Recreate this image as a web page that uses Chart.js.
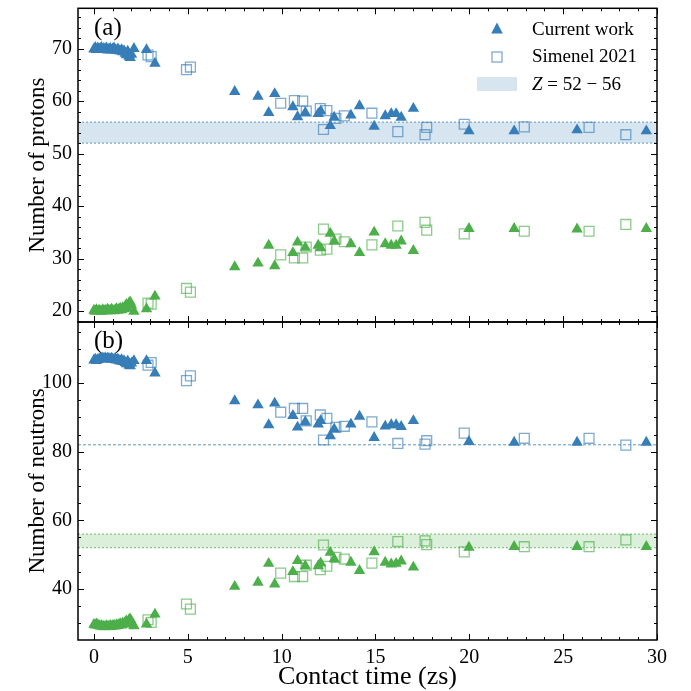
<!DOCTYPE html>
<html>
<head>
<meta charset="utf-8">
<script src="https://cdn.jsdelivr.net/npm/chart.js@4/dist/chart.umd.min.js"></script>
<style>
html, body { margin: 0; padding: 0; background: #fff; }
#wrap { position: relative; width: 691px; height: 691px; }
#wrap canvas { position: absolute; left: 0; top: 0; }
</style>
</head>
<body>
<div id="wrap">
  <canvas id="top" width="691" height="691"></canvas>
  <canvas id="bot" width="691" height="691"></canvas>
</div>
<script>
// axis limits and tick labels
const xLimits = [-0.85, 30];
const zLimits = [17.9, 77.7];
const nLimits = [25.1, 117.8];
const xTicks = [0, 5, 10, 15, 20, 25, 30];
const zTicks = [20, 30, 40, 50, 60, 70];
const nTicks = [40, 60, 80, 100];

// reference bands / lines
const zBand = [52, 56];
const nBand = [52, 56];
const nLine = 82;

// current work (triangles): contact time and fragment Z / N
const tCur = [0.00, 0.07, 0.13, 0.20, 0.27, 0.33, 0.40, 0.47, 0.53, 0.60, 0.67, 0.73, 0.80, 0.87, 0.93,
    1.00, 1.07, 1.13, 1.20, 1.27, 1.33, 1.40, 1.47, 1.53, 1.60, 1.67, 1.73, 1.80, 1.87, 1.93, 2.00,
    2.13, 2.80, 3.25, 7.50, 8.74, 9.31, 9.63, 10.60, 10.85, 11.26, 11.95, 12.08, 12.59, 12.80,
    13.69, 14.15, 14.93, 15.52, 15.84, 16.10, 16.37, 17.02, 19.98, 22.39, 25.74, 29.43];
const zHeavyCur = [69.9, 70.2, 69.8, 70.1, 69.9, 70.0, 70.2, 69.8, 70.0, 69.9, 70.1, 69.7, 69.9, 70.0, 69.7,
    69.9, 70.1, 69.8, 69.6, 69.9, 69.7, 69.5, 69.8, 69.4, 69.6, 69.1, 68.8, 69.5, 68.5, 68.3, 68.9,
    70.0, 69.8, 67.2, 61.8, 60.9, 57.8, 61.4, 58.9, 57.0, 57.8, 57.6, 58.1, 55.3, 56.9,
    57.3, 59.1, 55.2, 57.2, 57.6, 57.6, 56.9, 58.6, 54.3, 54.3, 54.5, 54.3];
const zLightCur = [20.1, 19.9, 20.2, 20.0, 20.1, 20.0, 19.9, 20.2, 20.0, 20.1, 20.0, 20.3, 20.1, 20.0, 20.3,
    20.1, 20.0, 20.2, 20.4, 20.1, 20.3, 20.5, 20.2, 20.6, 20.4, 20.9, 21.2, 20.5, 21.5, 21.7, 21.1,
    19.9, 20.4, 22.8, 28.4, 29.1, 32.5, 28.6, 31.1, 33.1, 32.1, 32.5, 32.0, 34.8, 33.3,
    32.8, 31.1, 35.0, 32.8, 32.5, 32.5, 33.3, 31.5, 35.7, 35.7, 35.6, 35.7];
const nHeavyCur = [106.7, 106.9, 106.5, 106.8, 106.9, 107.1, 107.0, 107.2, 107.1, 107.3, 107.0, 107.2, 107.1, 106.9, 107.2,
    107.0, 106.8, 107.1, 106.7, 106.9, 106.6, 106.4, 106.8, 106.2, 106.5, 105.9, 105.6, 106.4, 105.2, 105.0, 105.8,
    106.5, 106.5, 102.9, 94.8, 93.6, 87.8, 94.1, 90.5, 87.1, 88.7, 88.0, 89.0, 84.6, 86.6,
    88.0, 90.3, 84.1, 87.4, 87.8, 87.8, 87.3, 89.0, 82.9, 82.7, 82.7, 82.7];
const nLightCur = [29.6, 29.4, 29.7, 29.5, 29.3, 29.1, 29.2, 29.0, 29.1, 28.9, 29.2, 29.0, 29.1, 29.3, 29.0,
    29.2, 29.4, 29.1, 29.5, 29.3, 29.6, 29.8, 29.4, 30.0, 29.7, 30.3, 30.6, 29.8, 31.0, 31.2, 30.4,
    29.2, 29.7, 32.6, 40.7, 41.9, 47.4, 41.4, 45.0, 48.2, 46.7, 46.7, 47.5, 50.6, 48.7,
    47.7, 45.3, 50.8, 47.7, 47.2, 47.4, 48.1, 46.3, 52.1, 52.3, 52.3, 52.3];

// Simenel 2021 (open squares)
const tSim = [2.88, 3.05, 4.93, 5.14, 9.95, 10.68, 11.12, 11.31, 12.06, 12.23, 12.41, 12.89, 13.34,
    14.81, 16.19, 17.64, 17.73, 19.73, 22.93, 26.38, 28.34];
const zHeavySim = [68.8, 68.5, 66.0, 66.5, 59.6, 60.1, 60.0, 58.1, 58.6, 54.6, 58.2, 56.7, 57.2,
    57.7, 54.2, 53.6, 55.0, 55.6, 55.1, 55.0, 53.6];
const zLightSim = [21.5, 21.3, 24.3, 23.6, 30.7, 30.1, 30.1, 32.2, 31.6, 35.6, 31.8, 33.7, 33.2,
    32.6, 36.2, 36.9, 35.4, 34.7, 35.2, 35.2, 36.5];
const nHeavySim = [105.2, 106.0, 100.7, 102.1, 91.5, 92.6, 92.6, 89.0, 90.7, 83.4, 89.7, 87.1, 87.4,
    88.7, 82.4, 82.2, 83.2, 85.4, 83.9, 83.9, 81.9];
const nLightSim = [31.0, 30.2, 35.6, 34.1, 44.6, 43.6, 43.6, 46.9, 45.6, 52.8, 46.6, 49.2, 48.7,
    47.5, 53.8, 54.0, 52.9, 50.8, 52.3, 52.3, 54.3];

const BLUE = '#377eb8', GREEN = '#4daf4a';
const BLUE_A = 'rgba(55,126,184,0.65)', GREEN_A = 'rgba(77,175,74,0.65)';
const SERIF = '"Liberation Serif", "Times New Roman", serif';

Chart.defaults.font.family = SERIF;
Chart.defaults.color = '#000';

const pts = (t, v) => t.map((x, i) => ({ x: x, y: v[i] }));
const hline = (y) => [{ x: xLimits[0], y: y }, { x: xLimits[1], y: y }];
const fixedTicks = (arr) => (s) => { s.ticks = arr.map(v => ({ value: v })); };

function tri(data, color) {
    return { type: 'scatter', data: data, pointStyle: 'triangle', pointRadius: 6.6,
        backgroundColor: color, borderWidth: 0, order: 1 };
}
function sq(data, color) {
    return { type: 'scatter', data: data, pointStyle: 'rect', pointRadius: 7,
        backgroundColor: 'rgba(0,0,0,0)', borderColor: color, borderWidth: 1.3, order: 0 };
}
function edge(y, color, fill, bg, dash) {
    return { type: 'line', data: hline(y), borderColor: color, borderWidth: 1,
        borderDash: dash || [2, 2], pointRadius: 0, fill: fill || false, backgroundColor: bg, order: 10 };
}

// frame + inward ticks on all four sides
function framePlugin(minor, major, extra) {
    return {
        id: 'frame',
        afterDraw(chart) {
            const ctx = chart.ctx, a = chart.chartArea, sx = chart.scales.x, sy = chart.scales.y;
            ctx.save();
            ctx.strokeStyle = '#000';
            ctx.lineWidth = 1;
            ctx.beginPath();
            for (let v = Math.ceil(sy.min / minor) * minor; v <= sy.max; v += minor) {
                const y = Math.round(sy.getPixelForValue(v)) + 0.5;
                const len = v % major === 0 ? 6 : 3;
                ctx.moveTo(a.left, y); ctx.lineTo(a.left + len, y);
                ctx.moveTo(a.right, y); ctx.lineTo(a.right - len, y);
            }
            for (let v = 0; v <= xLimits[1]; v += 1) {
                const x = Math.round(sx.getPixelForValue(v)) + 0.5;
                const len = v % 5 === 0 ? 6 : 3;
                ctx.moveTo(x, a.top); ctx.lineTo(x, a.top + len);
                ctx.moveTo(x, a.bottom); ctx.lineTo(x, a.bottom - len);
            }
            ctx.stroke();
            ctx.lineWidth = 1.5;
            ctx.strokeRect(a.left, a.top, a.right - a.left, a.bottom - a.top);
            ctx.fillStyle = '#000';
            ctx.textBaseline = 'middle';
            extra(ctx, a);
            ctx.restore();
        }
    };
}

const noGrid = { display: false, drawTicks: false, tickLength: 0 };

function yAxis(lim, ticks, title) {
    return {
        type: 'linear', min: lim[0], max: lim[1],
        grid: noGrid, border: { display: false },
        afterBuildTicks: fixedTicks(ticks),
        afterFit: (s) => { s.width = 78; s.paddingTop = 0; s.paddingBottom = 0; },
        ticks: { font: { size: 20 }, padding: 6 },
        title: { display: true, text: title, font: { size: 23 }, padding: { top: 24, bottom: 0 } }
    };
}

function xAxis(show) {
    return {
        type: 'linear', min: xLimits[0], max: xLimits[1], display: show,
        grid: noGrid, border: { display: false },
        afterBuildTicks: fixedTicks(xTicks),
        afterFit: (s) => { s.height = show ? 51 : 0; s.paddingLeft = 0; s.paddingRight = 0; },
        ticks: { font: { size: 20 }, padding: 6, maxRotation: 0 },
        title: { display: true, text: 'Contact time (zs)', font: { size: 26, lineHeight: 1.1 }, padding: { top: 0, bottom: 0 } }
    };
}

function baseOptions(pad, showX, lim, ticks, title) {
    return {
        responsive: false,
        animation: false,
        devicePixelRatio: 1,
        layout: { padding: pad },
        plugins: { legend: { display: false }, tooltip: { enabled: false } },
        scales: { x: xAxis(showX), y: yAxis(lim, ticks, title) }
    };
}

// panel (a): protons
new Chart(document.getElementById('top'), {
    type: 'scatter',
    data: {
        datasets: [
            edge(zBand[0], 'rgba(55,126,184,0.8)'),
            edge(zBand[1], 'rgba(55,126,184,0.8)', '-1', 'rgba(55,126,184,0.2)'),
            tri(pts(tCur, zHeavyCur), BLUE),
            tri(pts(tCur, zLightCur), GREEN),
            sq(pts(tSim, zHeavySim), BLUE_A),
            sq(pts(tSim, zLightSim), GREEN_A)
        ]
    },
    options: baseOptions({ left: 0, right: 34, top: 5, bottom: 369 }, false, zLimits, zTicks, 'Number of protons'),
    plugins: [framePlugin(2, 10, (ctx, a) => {
        ctx.font = '25px ' + SERIF;
        ctx.fillText('(a)', 94, a.top + 20);
        // legend
        ctx.fillStyle = BLUE;
        ctx.beginPath();
        ctx.moveTo(497, 22.5); ctx.lineTo(502.8, 33.5); ctx.lineTo(491.2, 33.5); ctx.closePath();
        ctx.fill();
        ctx.strokeStyle = BLUE_A;
        ctx.lineWidth = 1.3;
        ctx.strokeRect(492, 52, 10, 10);
        ctx.fillStyle = 'rgba(55,126,184,0.2)';
        ctx.fillRect(477, 77, 40, 14);
        ctx.fillStyle = '#000';
        ctx.font = '19px ' + SERIF;
        ctx.fillText('Current work', 532, 30);
        ctx.fillText('Simenel 2021', 532, 57);
        ctx.font = 'italic 19px ' + SERIF;
        ctx.fillText('Z', 532, 85);
        const zw = ctx.measureText('Z').width;
        ctx.font = '19px ' + SERIF;
        ctx.fillText(' = 52 \u2212 56', 532 + zw, 85);
    })]
});

// panel (b): neutrons
new Chart(document.getElementById('bot'), {
    type: 'scatter',
    data: {
        datasets: [
            edge(nLine, 'rgba(55,126,184,0.8)', false, undefined, [3, 2]),
            edge(nBand[0], 'rgba(77,175,74,0.8)'),
            edge(nBand[1], 'rgba(77,175,74,0.8)', '-1', 'rgba(77,175,74,0.2)'),
            tri(pts(tCur, nHeavyCur), BLUE),
            tri(pts(tCur, nLightCur), GREEN),
            sq(pts(tSim, nHeavySim), BLUE_A),
            sq(pts(tSim, nLightSim), GREEN_A)
        ]
    },
    options: baseOptions({ left: 0, right: 34, top: 322, bottom: 0 }, true, nLimits, nTicks, 'Number of neutrons'),
    plugins: [framePlugin(5, 20, (ctx, a) => {
        ctx.font = '25px ' + SERIF;
        ctx.fillText('(b)', 94, a.top + 19);
    })]
});
</script>
</body>
</html>
